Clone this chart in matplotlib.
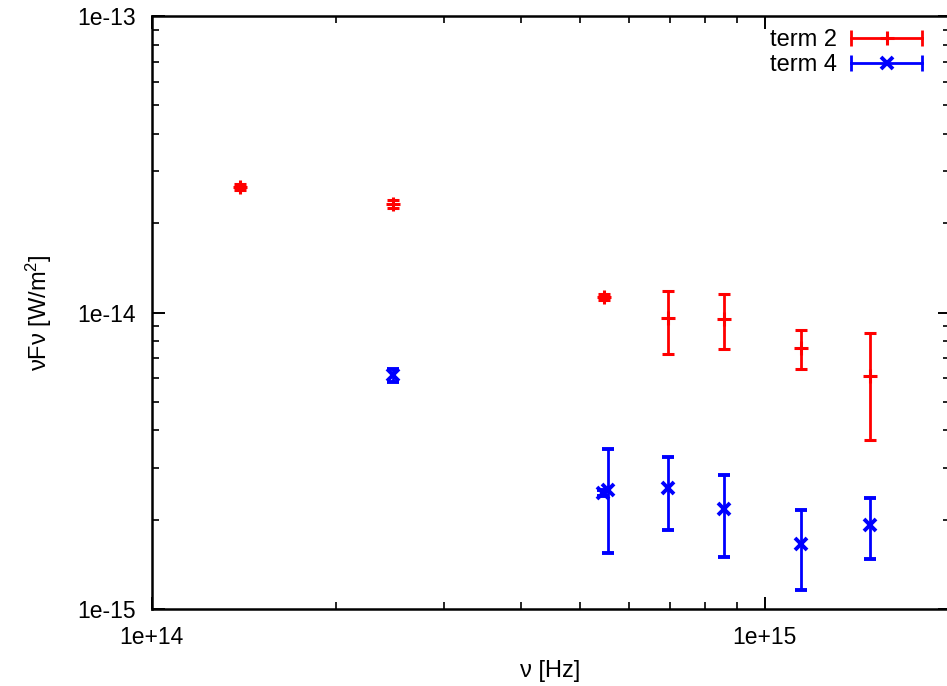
import matplotlib
matplotlib.use("Agg")
import matplotlib.pyplot as plt
from matplotlib.lines import Line2D
from matplotlib.legend_handler import HandlerLine2D, HandlerTuple
from matplotlib.ticker import LogLocator, FixedLocator, FixedFormatter, NullFormatter

plt.rcParams['font.family'] = ['Liberation Sans', 'DejaVu Sans']
plt.rcParams['mathtext.fontset'] = 'custom'
plt.rcParams['mathtext.rm'] = 'Liberation Sans'
plt.rcParams['mathtext.it'] = 'Liberation Sans:italic'

# term 2 (red)
nu_t2 = [1.394e14, 2.478e14, 5.465e14, 6.94e14, 8.58e14, 1.144e15, 1.483e15]
f_t2 = [2.65e-14, 2.32e-14, 1.13e-14, 9.55e-15, 9.52e-15, 7.6e-15, 6.13e-15]
e_t2 = [0.6e-15, 0.7e-15, 0.26e-15, 2.3e-15, 2.0e-15, 1.13e-15, 2.42e-15]

# term 4 (blue)
nu_t4 = [2.476e14, 5.45e14, 5.547e14, 6.94e14, 8.58e14, 1.144e15, 1.483e15]
f_t4 = [6.14e-15, 2.46e-15, 2.51e-15, 2.55e-15, 2.17e-15, 1.66e-15, 1.92e-15]
e_t4 = [0.29e-15, 0.05e-15, 0.96e-15, 0.71e-15, 0.67e-15, 0.50e-15, 0.44e-15]

x_ticks = [1e14, 1e15]
x_ticklabels = ["1e+14", "1e+15"]
y_ticks = [1e-15, 1e-14, 1e-13]
y_ticklabels = ["1e-15", "1e-14", "1e-13"]

W, H = 947, 686
fig = plt.figure(figsize=(W / 100, H / 100), dpi=100)
left, right, top, bottom = 151.5, 949.5, 16, 609
ax = fig.add_axes([left / W, (H - bottom) / H, (right - left) / W, (bottom - top) / H])

red = '#ff0000'
blue = '#0000ff'
ax.errorbar(nu_t2, f_t2, yerr=e_t2, fmt='+', color=red, ecolor=red,
            elinewidth=2, capsize=4, capthick=2, markersize=10, mew=2.2)
ax.errorbar(nu_t4, f_t4, yerr=e_t4, fmt='x', color=blue, ecolor=blue,
            elinewidth=2, capsize=4, capthick=2, markersize=9, mew=2.8)

ax.set_xscale('log')
ax.set_yscale('log')
ax.set_xlim(1e14, 2e15)
ax.set_ylim(1e-15, 1e-13)

ax.xaxis.set_major_locator(FixedLocator(x_ticks))
ax.xaxis.set_major_formatter(FixedFormatter(x_ticklabels))
ax.yaxis.set_major_locator(FixedLocator(y_ticks))
ax.yaxis.set_major_formatter(FixedFormatter(y_ticklabels))
ax.xaxis.set_minor_locator(LogLocator(base=10, subs=range(2, 10)))
ax.yaxis.set_minor_locator(LogLocator(base=10, subs=range(2, 10)))
ax.xaxis.set_minor_formatter(NullFormatter())
ax.yaxis.set_minor_formatter(NullFormatter())

ax.tick_params(which='both', direction='in', top=True, right=True, colors='black')
ax.tick_params(which='major', length=9, width=1.4, labelsize=16.5)
ax.tick_params(which='minor', length=5, width=1.2)
ax.tick_params(axis='y', which='major', pad=11)
ax.tick_params(axis='x', which='major', pad=12)
for s in ax.spines.values():
    s.set_linewidth(1.8)

ax.set_xlabel('ν [Hz]', fontsize=17)
ax.set_ylabel('νFν [W/m$^{2}$]', fontsize=17)
ax.xaxis.set_label_coords(0.5, -0.086)
ax.yaxis.set_label_coords(-0.1225, 0.5)

caps2 = Line2D([], [], color=red, lw=2, marker='|', markersize=11, mew=2)
mark2 = Line2D([], [], color=red, ls='none', marker='+', markersize=10, mew=2.2)
caps4 = Line2D([], [], color=blue, lw=2, marker='|', markersize=11, mew=2)
mark4 = Line2D([], [], color=blue, ls='none', marker='x', markersize=9, mew=2.8)
hmap = {caps2: HandlerLine2D(numpoints=2, marker_pad=0),
        caps4: HandlerLine2D(numpoints=2, marker_pad=0),
        tuple: HandlerTuple(ndivide=1, pad=0)}
ax.legend([(caps2, mark2), (caps4, mark4)], ['term 2', 'term 4'], handler_map=hmap,
          loc='upper right', bbox_to_anchor=(0.9655, 0.978), frameon=False,
          fontsize=17, markerfirst=False, handlelength=3.0, handletextpad=0.6,
          labelspacing=0.12, borderpad=0, borderaxespad=0, numpoints=1)

fig.savefig('out.png', dpi=100)
